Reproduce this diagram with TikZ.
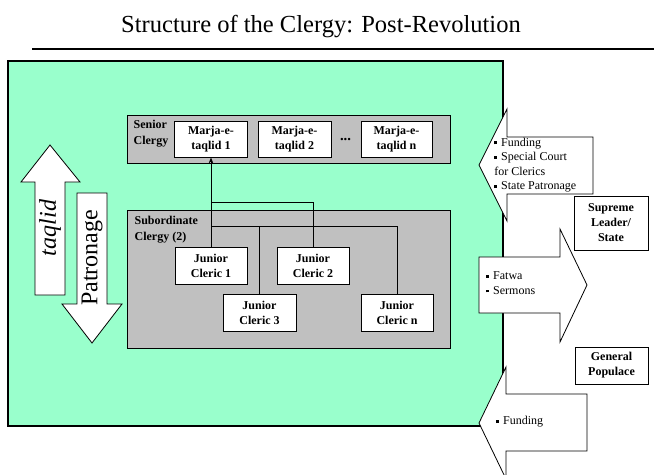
\documentclass[tikz,border=0pt]{standalone}
\usepackage{fontspec}
\setmainfont{Liberation Serif}
\usetikzlibrary{arrows.meta}
\definecolor{mint}{RGB}{153,255,204}
\definecolor{clergygray}{RGB}{192,192,192}
\newcommand\bul{\raisebox{0.3ex}{\rule{2.2pt}{2.2pt}}\hspace{3pt}}
\begin{document}
\begin{tikzpicture}[x=0.75pt,y=-0.75pt,
  whitebox/.style={draw, fill=white, line width=0.75pt, inner sep=0pt, align=center,
    font=\bfseries\fontsize{9}{11.25}\selectfont},
  mbox/.style={whitebox, minimum width=54.75pt, minimum height=27pt},
  jbox/.style={whitebox, minimum width=54pt, minimum height=27.75pt},
  graybox/.style={draw, fill=clergygray, line width=0.75pt, inner sep=0pt, minimum width=242.25pt},
  lbl/.style={inner sep=1pt, align=left, font=\bfseries\fontsize{9}{12.5}\selectfont},
  blockarrow/.style={draw, fill=white, line width=0.6pt, line join=miter},
  atext/.style={inner sep=0pt, align=left, font=\fontsize{9}{10.9}\selectfont},
  bigtext/.style={inner sep=0pt, rotate=90, font=\fontsize{18}{20}\selectfont},
  conn/.style={draw, line width=0.75pt}]
\useasboundingbox (0,0) rectangle (654,475);

% title
\node[anchor=base, inner sep=0pt, font=\fontsize{18.4}{22}\selectfont] (title) at (321,32) {Structure of the Clergy: Post-Revolution};
\coordinate (ruleL) at (32,48.5);
\coordinate (ruleR) at (654,48.5);
\draw[line width=1.5pt] (ruleL) -- (ruleR);

% green field
\node[draw, fill=mint, line width=1pt, inner sep=0pt, minimum width=371.25pt, minimum height=273.75pt] (field) at (255.5,243.5) {};

% left vertical arrows
\draw[blockarrow] (50,145) -- (80,182) -- (65,182) -- (65,295) -- (35,295) -- (35,182) -- (21,182) -- cycle;
\node[bigtext, font=\itshape\fontsize{18}{20}\selectfont] (taqlid) at (50,228) {taqlid};
\draw[blockarrow] (77,193) -- (107,193) -- (107,304) -- (122,304) -- (92,343) -- (62,304) -- (77,304) -- cycle;
\node[bigtext] (patronage) at (92,258) {Patronage};

% senior clergy
\node[graybox, minimum height=36pt] (senior) at (288.5,139) {};
\node[lbl, anchor=west] (seniorlbl) at (132,133.5) {Senior\\Clergy};
\node[mbox] (m1) at (211,139) {Marja-e-\\taqlid 1};
\node[mbox] (m2) at (294.5,139) {Marja-e-\\taqlid 2};
\node[mbox, minimum width=53.25pt] (mn) at (396.5,139) {Marja-e-\\taqlid n};
\node[inner sep=0pt, font=\bfseries\fontsize{11}{12}\selectfont] (dots) at (345.5,140) {...};

% subordinate clergy
\node[graybox, minimum height=103.5pt] (sub) at (288.5,279) {};
\node[lbl, anchor=west] (sublbl) at (133,229.5) {Subordinate\\Clergy (2)};
\node[jbox] (jc1) at (211,265.5) {Junior\\Cleric 1};
\node[jbox] (jc2) at (313,265.5) {Junior\\Cleric 2};
\node[jbox, minimum width=54.75pt] (jc3) at (259.5,313) {Junior\\Cleric 3};
\node[jbox] (jcn) at (397,313) {Junior\\Cleric n};

% connectors
\coordinate (ja) at (211,202);
\coordinate (jb) at (211,226);
\draw[conn, -{Stealth[length=4.5pt,width=3.5pt]}] (jc1.north) -- (m1.south);
\draw[conn] (jc2.north) |- (ja);
\draw[conn] (jc3.north) |- (jb);
\draw[conn] (jcn.north) |- (jb);

% right side block arrows
\draw[blockarrow] (479,165) -- (507,109) -- (507,137) -- (593,137) -- (593,194) -- (507,194) -- (507,221) -- cycle;
\node[atext, anchor=west] (toptext) at (494,165) {\bul Funding\\\bul Special Court\\for Clerics\\\bul State Patronage};

\draw[blockarrow] (479,257) -- (560,257) -- (560,229) -- (587,285) -- (560,342) -- (560,313) -- (479,313) -- cycle;
\node[atext, anchor=west] (midtext) at (486,283) {\bul Fatwa\\\bul Sermons};

\draw[blockarrow] (479,423) -- (506,367) -- (506,394) -- (587,394) -- (587,451) -- (506,451) -- (506,479) -- cycle;
\node[atext, anchor=west] (bottext) at (496,422) {\bul Funding};

% actors
\node[whitebox, minimum width=55.5pt, minimum height=40.5pt] (state) at (611,223) {Supreme\\Leader/\\State};
\node[whitebox, minimum width=54.75pt, minimum height=27.75pt] (populace) at (611.5,365.5) {General\\Populace};
\end{tikzpicture}
\end{document}
